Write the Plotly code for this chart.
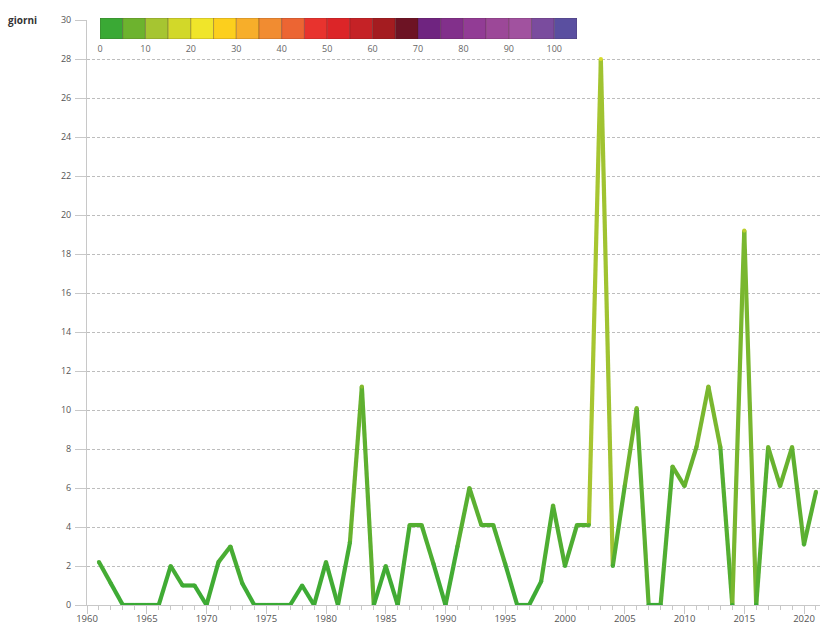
import plotly.graph_objects as go
from plotly.colors import sample_colorscale

# ---------------- data ----------------
years = list(range(1961, 2022))
giorni = [
    2.2, 1.1, 0, 0, 0, 0, 2.0, 1.0, 1.0, 0,          # 1961-1970
    2.2, 3.0, 1.1, 0, 0, 0, 0, 1.0, 0, 2.2,          # 1971-1980
    0, 3.2, 11.2, 0, 2.0, 0, 4.1, 4.1, 2.1, 0,       # 1981-1990
    3.0, 6.0, 4.1, 4.1, 2.1, 0, 0, 1.2, 5.1, 2.0,    # 1991-2000
    4.1, 4.1, 28.0, 2.0, 6.1, 10.1, 0, 0, 7.1, 6.1,  # 2001-2010
    8.1, 11.2, 8.1, 0, 19.2, 0, 8.1, 6.1, 8.1, 3.1,  # 2011-2020
    5.8,                                             # 2021
]
legend_values = list(range(0, 101, 5))
legend_tick_values = list(range(0, 101, 10))
y_ticks = list(range(0, 31, 2))
x_ticks = list(range(1960, 2021, 5))

# ---------------- styles ----------------
legend_colors = [
    "#3aa935", "#6db32e", "#a6c531", "#d2d829", "#f0e52a", "#fccf1d", "#f7ae2a",
    "#f18c31", "#ec6533", "#e8332e", "#dc2528", "#c52226", "#a41c20", "#6d1324",
    "#6f2480", "#82308b", "#923c95", "#9c4898", "#a1529f", "#7a4c9e", "#5a4fa0",
]
line_scale = [[0.0, "#3aaa35"], [0.33, "#6db32e"], [0.66, "#a6c531"], [1.0, "#d8dc2a"]]
LINE_MAX = 24.0
FONT = "Open Sans"

W, H = 820, 632
M_L, M_R, M_T, M_B = 0, 0, 10, 27
PLOT_H = H - M_T - M_B


def py(pix):  # pixel y (from top) -> paper fraction
    return (H - M_B - pix) / PLOT_H


def col(v):
    t = max(0.0, min(1.0, v / LINE_MAX))
    return sample_colorscale(line_scale, [t])[0]


fig = go.Figure()

# line, one segment per pair of consecutive years, coloured by value
for i in range(len(years) - 1):
    m = (giorni[i] + giorni[i + 1]) / 2.0
    fig.add_trace(go.Scatter(
        x=[years[i], years[i + 1]], y=[giorni[i], giorni[i + 1]],
        mode="lines", line=dict(color=col(m), width=4.2),
        hoverinfo="skip", showlegend=False,
    ))
# vertex dots to join the segments smoothly
fig.add_trace(go.Scatter(
    x=years, y=giorni, mode="markers",
    marker=dict(size=4.2, color=[col(v) for v in giorni], line=dict(width=0)),
    showlegend=False, hoverinfo="skip",
))

# colour legend bar
fig.add_trace(go.Bar(
    x=legend_values, y=[1] * len(legend_values), width=5, offset=0,
    marker=dict(color=legend_colors, line=dict(color="rgba(60,30,30,0.35)", width=0.8)),
    xaxis="x2", yaxis="y2", showlegend=False, hoverinfo="skip",
))

fig.update_layout(
    width=W, height=H,
    margin=dict(l=M_L, r=M_R, t=M_T, b=M_B),
    paper_bgcolor="white", plot_bgcolor="rgba(0,0,0,0)",
    font=dict(family=FONT, size=9, color="#555"),
    bargap=0,
    xaxis=dict(
        domain=[87 / W, 1.0], range=[1960, 1960 + 733 / 11.95],
        tickmode="array", tickvals=x_ticks, ticktext=[str(t) for t in x_ticks],
        showgrid=False, zeroline=False,
        showline=True, linecolor="#c8c8c8", linewidth=1,
        ticks="outside", ticklen=8, tickcolor="#c8c8c8", tickwidth=1,
        minor=dict(dtick=1, ticks="outside", ticklen=4, tickcolor="#c8c8c8", showgrid=False),
        ticklabelstandoff=-3,
        tickfont=dict(family=FONT, size=9.5, color="#555"),
        automargin=False, fixedrange=True,
    ),
    yaxis=dict(
        domain=[0, py(20)], range=[0, 30],
        tickmode="array", tickvals=y_ticks, ticktext=[str(t) for t in y_ticks],
        showgrid=True, gridcolor="#bdbdbd", gridwidth=1, griddash="3px,2px",
        zeroline=False,
        showline=True, linecolor="#c8c8c8", linewidth=1,
        ticks="outside", ticklen=11, tickcolor="#c8c8c8", tickwidth=1,
        ticklabelstandoff=2,
        tickfont=dict(family=FONT, size=9, color="#555"),
        automargin=False, fixedrange=True,
    ),
    xaxis2=dict(
        domain=[100 / W, 577 / W], range=[0, 105], anchor="y2",
        tickmode="array", tickvals=legend_tick_values,
        ticktext=[str(t) for t in legend_tick_values],
        showgrid=False, zeroline=False, showline=False, ticks="",
        ticklabelstandoff=3,
        tickfont=dict(family=FONT, size=9, color="#666"),
        automargin=False, fixedrange=True,
    ),
    yaxis2=dict(
        domain=[py(39), py(18)], range=[0, 1], anchor="x2",
        showgrid=False, zeroline=False, showline=False, showticklabels=False,
        automargin=False, fixedrange=True,
    ),
    annotations=[dict(
        text="<b>giorni</b>", x=6 / W, y=py(20), xref="paper", yref="paper",
        xanchor="left", yanchor="middle", showarrow=False,
        font=dict(family=FONT, size=10, color="#333"),
    )],
)

fig.write_html(
    "out.html",
    config={"displayModeBar": False, "staticPlot": True},
    post_script="document.body.style.margin='0';document.body.style.overflow='hidden';",
)
